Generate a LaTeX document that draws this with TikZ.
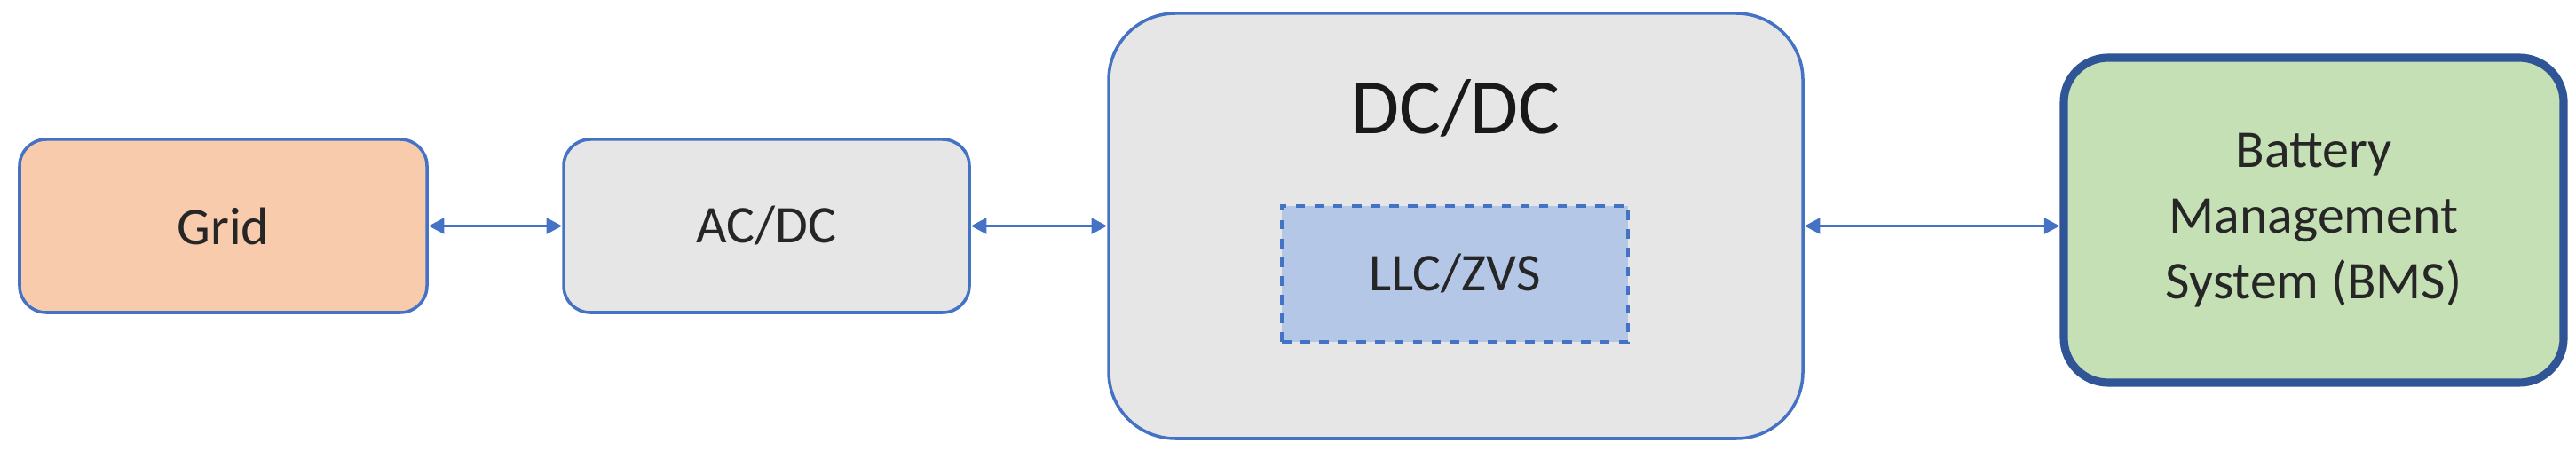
\documentclass[tikz,border=0pt]{standalone}
\usepackage{fontspec}
\setmainfont{Carlito}
\usetikzlibrary{arrows.meta}
\definecolor{bord}{HTML}{4472C4}
\definecolor{dbord}{HTML}{2F5597}
\definecolor{gridc}{HTML}{F8CBAD}
\definecolor{grayc}{HTML}{E7E6E6}
\definecolor{llcc}{HTML}{B4C7E7}
\definecolor{bmsc}{HTML}{C5E0B4}
\tikzset{
 box/.style={draw=bord, line width=1pt, rounded corners=0.3cm, inner sep=0pt, font=\fontsize{17}{20}\selectfont, text=black!85},
 conn/.style={draw=bord, line width=1pt, {Triangle[length=5pt,width=5pt]}-{Triangle[length=5pt,width=5pt]}}
}
\begin{document}
\begin{tikzpicture}
\useasboundingbox (0,0) rectangle (29.02,5.17);
\node[box, fill=gridc, minimum width=4.59cm, minimum height=1.95cm] (grid) at (2.515,2.625) {Grid};
\node[box, fill=grayc, minimum width=4.57cm, minimum height=1.95cm] (acdc) at (8.635,2.625) {AC/DC};
\node[box, fill=grayc, rounded corners=0.75cm, minimum width=7.82cm, minimum height=4.79cm] (dcdc) at (16.4,2.625) {};
\node[font=\fontsize{25}{30}\selectfont, text=black!90] (dct) at (16.4,3.95) {DC/DC};
\node[draw=bord, dashed, line width=1pt, fill=llcc, minimum width=3.9cm, minimum height=1.53cm, font=\fontsize{17}{20}\selectfont, text=black!85] (llc) at (16.39,2.085) {LLC/ZVS};
\node[box, draw=dbord, line width=2.6pt, fill=bmsc, rounded corners=0.5cm, minimum width=5.63cm, minimum height=3.66cm, align=center, font=\fontsize{17}{21}\selectfont] (bms) at (26.065,2.69) {Battery\\Management\\System (BMS)};
\draw[conn] (grid.east) -- (acdc.west);
\draw[conn] (acdc.east) -- (dcdc.west |- acdc.east);
\draw[conn] (dcdc.east |- acdc.east) -- (bms.west |- acdc.east);
\end{tikzpicture}
\end{document}
